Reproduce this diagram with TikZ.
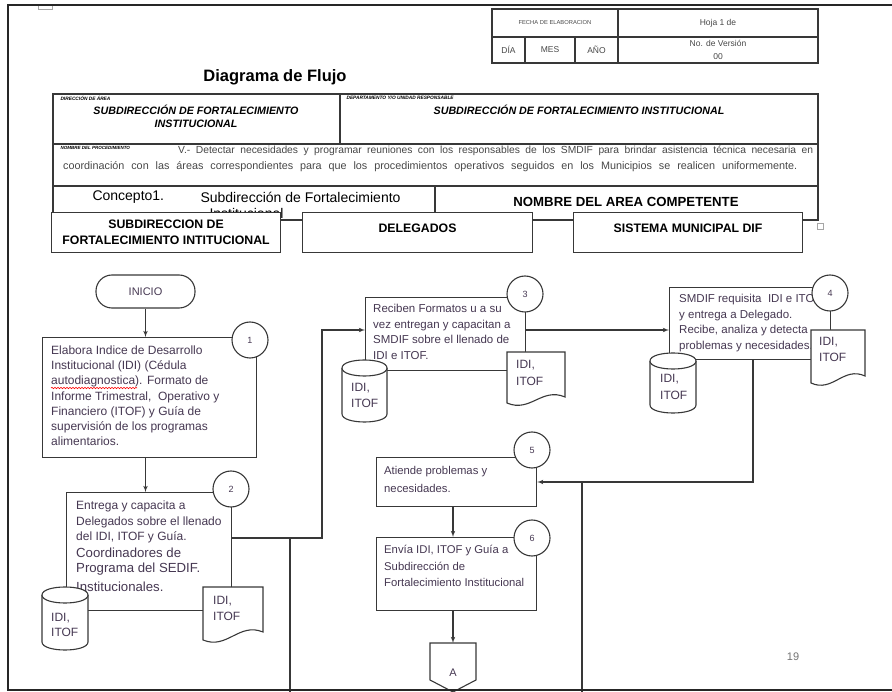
\documentclass[tikz,border=0pt]{standalone}
\usepackage{fontspec}
\setmainfont{Liberation Sans}
\usetikzlibrary{positioning}
\usetikzlibrary{arrows}
\usetikzlibrary{decorations.pathmorphing}
\colorlet{linec}{black!78}
\colorlet{framec}{black!85}
\colorlet{hdrc}{black!72}
\definecolor{txtc}{RGB}{70,56,82}
\newcommand{\fsz}[2]{\fontsize{#1}{#2}\selectfont}
% cylinder: left, right, top, bottom
\newcommand{\dbsym}[4]{%
  \filldraw[sym] (#1,#3+8) -- (#1,#4-8) .. controls (#1,#4+2.67) and (#2,#4+2.67) .. (#2,#4-8)
    -- (#2,#3+8) .. controls (#2,#3-2.67) and (#1,#3-2.67) .. cycle;
  \draw[sym] (#1,#3+8) .. controls (#1,#3+18.67) and (#2,#3+18.67) .. (#2,#3+8);}
% document: left, right, top, bottom left, bottom right
\newcommand{\docsym}[5]{%
  \filldraw[sym] (#1,#3) -- (#2,#3) -- (#2,#5)
    .. controls ({#1+0.6*(#2-#1)},{#5-10}) and ({#1+0.4*(#2-#1)},{#4+10}) .. (#1,#4) -- cycle;}

\begin{document}
\begin{tikzpicture}[x=1pt,y=-1pt,
  sym/.style={draw=linec,fill=white,line width=1.1pt},
  proc/.style={draw=linec,fill=white,line width=1.1pt,shape=rectangle,anchor=north west,inner sep=0pt},
  num/.style={draw=linec,fill=white,line width=1.1pt,circle,minimum size=36pt,inner sep=0pt,font=\fsz{9}{10},text=txtc},
  txt/.style={anchor=north west,inner sep=0pt,align=left,text=txtc},
  lane/.style={draw=linec,fill=white,line width=1.1pt,anchor=north west,inner sep=0pt,align=center,font=\bfseries\fsz{12.3}{16}},
  flow/.style={draw=linec,line width=1.1pt,-latex'},
  link/.style={draw=linec,line width=1.1pt},
  tbl/.style={draw=linec,line width=1.1pt}]
        \useasboundingbox (0,0) rectangle (892,692);
        \draw[black!35] (38,4) rectangle (52,9);

        % hoja / version
        \draw[tbl] (492,9) rectangle (818,63);
        \draw[tbl] (492,37) -- (818,37) (618,9) -- (618,63) (525,37) -- (525,63) (575,37) -- (575,63);
        \node[font=\fsz{5.8}{6},text=hdrc] (fecha) at (555,23) {FECHA DE ELABORACION};
        \node[font=\fsz{8.5}{10},text=hdrc] (hoja) at (718,23) {Hoja 1 de};
        \node[font=\fsz{8.5}{10},text=hdrc] (dia) at (508.5,50) {DÍA};
        \node[font=\fsz{8.5}{10},text=hdrc] (mes) at (550,50) {MES};
        \node[font=\fsz{8.5}{10},text=hdrc] (anio) at (596.5,50) {AÑO};
        \node[font=\fsz{8.5}{13},text=hdrc,align=center] (version) at (718,50) {No. de Versión\\00};

        \node[font=\bfseries\fsz{16.5}{18}] (titulo) at (275,77) {Diagrama de Flujo};

        % encabezado del procedimiento
        \draw[tbl] (53,94) rectangle (818,220);
        \draw[tbl] (53,144) -- (818,144) (53,186) -- (818,186) (340,94) -- (340,144) (435,186) -- (435,220);
        \node[anchor=west,font=\bfseries\itshape\fsz{4.8}{5}] (dirlbl) at (57,98) {DIRECCIÓN DE ÁREA};
        \node[align=center,font=\bfseries\itshape\fsz{10.7}{13}] (dirarea) at (196,116.5) {SUBDIRECCIÓN DE FORTALECIMIENTO\\INSTITUCIONAL};
        \node[anchor=west,font=\bfseries\itshape\fsz{4.8}{5}] (deplbl) at (343,98) {DEPARTAMENTO Y/O UNIDAD RESPONSABLE};
        \node[font=\bfseries\itshape\fsz{10.7}{13}] (depto) at (579,110) {SUBDIRECCIÓN DE FORTALECIMIENTO INSTITUCIONAL};
        \node[anchor=west,font=\bfseries\itshape\fsz{4.5}{5}] (nomlbl) at (57,148) {NOMBRE DEL PROCEDIMIENTO};
        \node[anchor=west,inner sep=0pt,font=\fsz{10.3}{12},text=hdrc] (proc1) at (178,151)
        {\makebox[635pt][s]{V.- Detectar necesidades y programar reuniones con los responsables de los SMDIF para brindar asistencia técnica necesaria en}};
        \node[anchor=west,inner sep=0pt,font=\fsz{10.8}{12},text=hdrc] (proc2) at (63,167)
        {\makebox[734pt][s]{coordinación con las áreas correspondientes para que los procedimientos operativos seguidos en los Municipios se realicen uniformemente.}};
        \node[anchor=west,font=\fsz{14}{16}] (concepto) at (89,197) {Concepto1.};
        \node[anchor=west,font=\fsz{14}{16}] (conceptosub) at (197,197) {Subdirección de Fortalecimiento};
        \node[anchor=west,font=\fsz{14}{16}] (conceptoinst) at (206,213) {Institucional};
        \node[font=\bfseries\fsz{13.2}{15}] (areacomp) at (626,202) {NOMBRE DEL AREA COMPETENTE};

        % carriles
        \node[lane,minimum width=229pt,minimum height=40pt] (laneSub) at (51,212) {SUBDIRECCION DE\\FORTALECIMIENTO INTITUCIONAL};
        \node[lane,minimum width=230pt,minimum height=40pt,text depth=8pt] (laneDel) at (302,212) {DELEGADOS};
        \node[lane,minimum width=229pt,minimum height=40pt,text depth=8pt] (laneMun) at (573,212) {SISTEMA MUNICIPAL DIF};
        \draw[black!35] (817,223) rectangle (823,229);

        % actividades
        \node[draw=linec,line width=1.1pt,rounded corners=16pt,minimum width=99pt,minimum height=33pt,font=\fsz{11}{12},text=txtc]
        (ini) at (145.5,291.5) {INICIO};

        \node[proc,minimum width=214pt,minimum height=120pt] (act1) at (42,337) {};
        \node[txt,font=\fsz{12}{15.2}] (act1t) at (51,345.7) {Elabora Indice de Desarrollo\\Institucional (IDI) (Cédula\\autodiagnostica). Formato de\\Informe Trimestral,~ Operativo y\\Financiero (ITOF) y Guía de\\supervisión de los programas\\alimentarios.};
        \draw[red,line width=0.6pt,decorate,decoration={snake,amplitude=0.7pt,segment length=3pt}] (51,388) -- (137,388);
        \node[num] (n1) at (250,340) {1};

        \node[proc,minimum width=165pt,minimum height=118pt] (act2) at (66,492) {};
        \node[txt,font=\fsz{12}{15.5}] (act2t) at (76,500.7) {Entrega y capacita a\\Delegados sobre el llenado\\del IDI, ITOF y Guía.};
        \node[txt,font=\fsz{13.2}{15.5}] (act2u) at (76,547.3) {Coordinadores de\\Programa del SEDIF.\\[3pt]Institucionales.};
        \node[num] (n2) at (231,489) {2};
        \dbsym{42}{88}{587}{650}
        \node[txt,font=\fsz{12}{15}] (db2) at (51,612.7) {IDI,\\ITOF};
        \docsym{203}{263}{587}{640}{632}
        \node[txt,font=\fsz{12}{16.5}] (doc2) at (213,595.7) {IDI,\\ITOF};

        \node[proc,minimum width=160pt,minimum height=73pt] (act3) at (365,297) {};
        \node[txt,font=\fsz{11.5}{15.6}] (act3t) at (373,303.9) {Reciben Formatos u a su\\vez entregan y capacitan a\\SMDIF sobre el llenado de\\IDI e ITOF.};
        \node[num] (n3) at (525,294) {3};
        \dbsym{342}{387}{360}{422}
        \node[txt,font=\fsz{12}{16}] (db3) at (351,382.7) {IDI,\\ITOF};
        \docsym{507}{565}{352}{403}{397}
        \node[txt,font=\fsz{12}{17}] (doc3) at (516,359.7) {IDI,\\ITOF};

        \node[proc,minimum width=161pt,minimum height=72pt] (act4) at (669,287) {};
        \node[txt,font=\fsz{11.5}{15.6}] (act4t) at (679,293.9) {SMDIF requisita~ IDI e ITOF\\y entrega a Delegado.\\Recibe, analiza y detecta\\problemas y necesidades.};
        \node[num] (n4) at (830,293) {4};
        \dbsym{650}{696}{353}{413}
        \node[txt,font=\fsz{12}{17}] (db4) at (660,373.7) {IDI,\\ITOF};
        \docsym{811}{865}{330}{383}{376}
        \node[txt,font=\fsz{12}{16}] (doc4) at (819,336.7) {IDI,\\ITOF};

        \node[proc,minimum width=160pt,minimum height=49pt] (act5) at (376,457) {};
        \node[txt,font=\fsz{11.3}{18}] (act5t) at (384,466) {Atiende problemas y\\necesidades.};
        \node[num] (n5) at (532,450) {5};

        \node[proc,minimum width=160pt,minimum height=73pt] (act6) at (376,537) {};
        \node[txt,font=\fsz{11.3}{16.5}] (act6t) at (384,545) {Envía IDI, ITOF y Guía a\\Subdirección de\\Fortalecimiento Institucional};
        \node[num] (n6) at (532,538) {6};

        % conectores
        \draw[flow] (ini.south) -- (ini.south |- act1.north);
        \draw[flow] (act1.south -| ini.south) -- (act2.north -| ini.south);
        \coordinate (j2) at (322,538);
        \coordinate (j3) at (322,330);
        \draw[flow] (act2.east |- j2) -- (j2) -- (j3) -- (j3 -| act3.west);
        \coordinate (d2) at (290,692);
        \draw[link] (d2 |- j2) -- (d2);
        \draw[flow] (act3.east |- j3) -- (j3 -| act4.west);
        \coordinate (j4) at (753,482);
        \draw[flow] (j4 |- act4.south) -- (j4) -- (j4 -| act5.east);
        \coordinate (d5) at (582,692);
        \draw[link] (d5 |- j4) -- (d5);
        \coordinate (offA) at (453,643);
        \draw[flow] (offA |- act5.south) -- (offA |- act6.north);
        \draw[flow] (offA |- act6.south) -- (offA);
        \filldraw[sym] (offA) -- ++(23,0) -- ++(0,37) -- ++(-23,12) -- ++(-23,-12) -- ++(0,-37) -- cycle;
        \node[font=\fsz{11}{12},text=txtc] (offAt) at (453,673) {A};

        \node[font=\fsz{11}{12},text=black!55] (pag) at (793,657) {19};

        % marco
        \draw[framec,line width=2pt] (892,5) -- (8,5) -- (8,690) -- (892,690);
\end{tikzpicture}
\end{document}
